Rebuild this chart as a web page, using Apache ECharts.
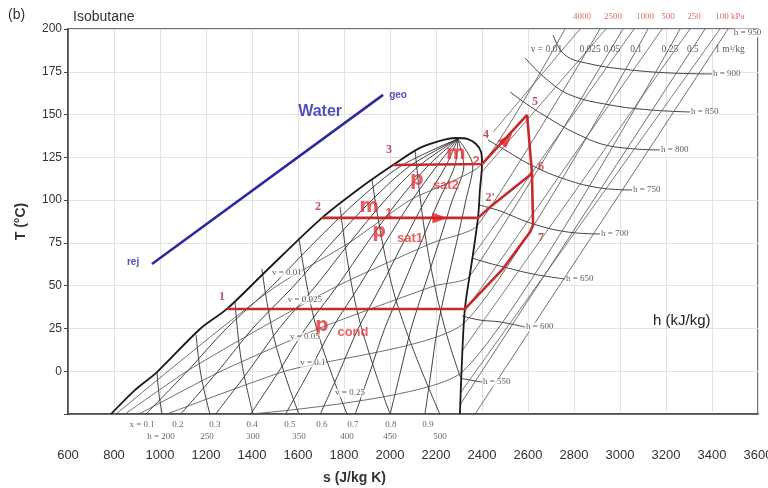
<!DOCTYPE html>
<html><head><meta charset="utf-8">
<script src="https://cdn.jsdelivr.net/npm/echarts@6/dist/echarts.min.js"></script>
<style>html,body{margin:0;padding:0;background:#fff;overflow:hidden;width:768px;height:488px}#c{width:768px;height:488px}</style>
</head><body><div id="c"></div>
<script>
// ---- axes ----
const sRange = [600, 3600], sStep = 200;
const tRange = [-25, 200], tStep = 25;
const yTickLabels = [0, 25, 50, 75, 100, 125, 150, 175, 200];

// ---- saturation dome (s, T) ----
const domeSat = [[787,-25],[891,-11],[987,-0.5],[1174,24.7],[1291,36.4],[1457,58],[1704,89.6],[1870,107.1],[2013,120.5],[2130,130.5],[2217,134.6],[2283,136.3],[2339,135.7],[2374,132.8],[2396,128.1],[2400,121.1],[2391,105.9],[2383,90.1],[2357,65],[2326,37],[2313,6.6],[2304,-25]];
const critPoint = [2295, 135.8];

// ---- quality lines: s at T levels ----
const qualityT = [-25, 0, 25, 50, 75, 100, 120];
const q01 = [939,1119,1289,1489,1669,1862,2048];
const q02 = [1090,1252,1403,1583,1746,1921,2087];
const q03 = [1242,1384,1518,1678,1824,1979,2126];
const q04 = [1394,1517,1633,1772,1901,2038,2165];
const q05 = [1546,1649,1748,1867,1979,2096,2204];
const q06 = [1697,1781,1862,1962,2057,2154,2243];
const q07 = [1849,1914,1977,2056,2134,2213,2282];
const q08 = [2001,2046,2092,2151,2212,2271,2321];
const q09 = [2152,2179,2206,2245,2289,2330,2360];

// ---- isenthalps in two-phase region ----
const hWet200 = [[987,-0.5],[995,-12.7],[1009,-25]];
const hWet250 = [[1157,21.2],[1178,-2.2],[1217,-25]];
const hWet300 = [[1326,41.0],[1352,7.7],[1404,-25]];
const hWet350 = [[1443,59.8],[1500,17.1],[1604,-25]];
const hWet400 = [[1604,77.9],[1678,26.4],[1813,-25]];
const hWet450 = [[1783,96.0],[1857,35.2],[2000,-25]];
const hWet500 = [[1922,111.8],[2022,43.4],[2217,-25]];
// ---- isenthalps (superheated) ----
const h550 = [[2109,129.3],[2174,63.3],[2304,-2.8],[2348,-5.1],[2400,-6.3]];
const h600 = [[2313,32.3],[2391,29.9],[2478,28.8],[2587,25.8]];
const h650 = [[2357,66.2],[2413,63.8],[2478,61.5],[2622,56.8],[2761,53.9]];
const h700 = [[2387,97.2],[2435,95.4],[2478,93.7],[2622,86.1],[2770,81.4],[2913,80.2]];
const h750 = [[2426,135.2],[2500,129.3],[2622,119.9],[2770,111.8],[2913,107.1],[3052,105.9]];
const h800 = [[2522,163.2],[2587,156.8],[2674,149.2],[2813,138.7],[2957,131.6],[3174,129.3]];
const h850 = [[2587,183.1],[2674,171.4],[2783,161.5],[2957,155.6],[3131,152.7],[3304,151.5]];
const h900 = [[2709,196.5],[2761,184.8],[2870,179.6],[3044,176.1],[3217,174.3],[3400,173.7]];

// ---- isochores ----
const v001 = [[809,-25],[1035,0],[1265,25],[1509,50],[1822,75],[2087,100],[2400,121],[2761,200]];
const v0025 = [[848,-25],[1117,0],[1435,25],[1774,50],[2183,75],[2378,84.9],[2913,200]];
const v005 = [[909,-25],[1265,0],[1691,25],[2196,50],[2344,55.1],[3013,200]];
const v01 = [[1030,-25],[1543,0],[2322,28.2],[3122,200]];
const v025 = [[1396,-25],[2313,-0.5],[3261,200]];
const v05 = [[2304,-19.7],[3370,200]];
const v1 = [[2370,-25],[3470,200]];

// ---- isobars (superheated) ----
const p100 = [[2309,-12.1],[3435,200]];
const p250 = [[2313,11.8],[3304,200]];
const p500 = [[2326,35.2],[3183,200]];
const p1000 = [[2357,66.8],[3061,200]];
const p2500 = [[2396,115.9],[2939,200]];
const p4000 = [[2450,140],[2826,200]];

// ---- water line ----
const water = [[965,62.7],[1970,161.5]];

// ---- cycle (red) ----
const cycCond = [[1291,36.4],[2326,36.4],[2487,59.2],[2609,81.4],[2622,85.5]];
const cycExp = [[2622,85.5],[2617,116.4],[2596,149.8]];
const cycSat1 = [[1704,89.6],[2383,89.6],[2435,96.0],[2609,114.7],[2617,116.4]];
const cycSat2 = [[2013,120.5],[2400,121.1],[2596,149.8]];
const arrowPts = [[2217,89.6,-90],[2509,135.7,-43]];

// ---- labels ----
const stateLabels = [['1',1270,43.4],['2',1687,96.0],['3',1996,129.3],['4',2417,138.1],['5',2630,157.4],['6',2657,119.4],["2'",2435,101.3],['7',2657,77.9]];
const redMain = [['m',1909,96.0],['p',1952,81.4],['m',2287,127.0],['p',2117,111.8],['p',1704,26.4]];
const redSub = [['1',1995,92.5],['sat1',2087,77.9],['2',2374,122.6],['sat2',2243,108.3],['cond',1839,22.9]];
const hLabels = [['h = 550',2400,-6.3],['h = 600',2587,25.8],['h = 650',2761,53.9],['h = 700',2913,80.2],['h = 750',3052,105.9],['h = 800',3174,129.3],['h = 850',3304,151.5],['h = 900',3400,173.7],['h = 950',3490,197.7]];
const vWetLabels = [['v = 0.01',1552,57.4],['v = 0.025',1630,41.6],['v = 0.05',1630,20.0],['v = 0.1',1665,4.8],['v = 0.25',1826,-12.7]];
const vTopLabels = [['v = 0.01',2680,187.8],['0.025',2870,187.8],['0.05',2965,187.8],['0.1',3070,187.8],['0.25',3217,187.8],['0.5',3317,187.8],['1 m³/kg',3478,187.8]];
const pTopLabels = [['4000',2835,207],['2500',2970,207],['1000',3109,207],['500',3209,207],['250',3322,207],['100 kPa',3478,207]];
const xRowLabels = [['x = 0.1',922,-31.4],['0.2',1078,-31.4],['0.3',1239,-31.4],['0.4',1400,-31.4],['0.5',1565,-31.4],['0.6',1704,-31.4],['0.7',1839,-31.4],['0.8',2004,-31.4],['0.9',2165,-31.4]];
const hRowLabels = [['h = 200',1004,-38.4],['250',1204,-38.4],['300',1404,-38.4],['350',1604,-38.4],['400',1813,-38.4],['450',2000,-38.4],['500',2217,-38.4]];
const waterLabels = [['Water',1696,151.5,'w'],['geo',2035,161,'g'],['rej',883,63.8,'r']];

const chart = echarts.init(document.getElementById('c'), null, {renderer:'canvas', width:768, height:488});
const series = [];
function line(data, color, width, z, smooth){
  series.push({type:'line', data, symbol:'none', silent:true, smooth: smooth||0,
    lineStyle:{color, width}, z: z||2, clip:true, animation:false});
}
const thin = '#2e2e2e';
[q01,q02,q03,q04,q05,q06,q07,q08,q09].forEach(q=>{
  const d = qualityT.map((t,i)=>[q[i],t]); d.push(critPoint); line(d, thin, 0.9, 2, 0.3);
});
[hWet200,hWet250,hWet300,hWet350,hWet400,hWet450,hWet500].forEach(d=>line(d, thin, 0.9, 2, 0.4));
[h550,h600,h650,h700,h750,h800,h850,h900].forEach(d=>line(d, '#2e2e2e', 0.9, 2, 0.4));
[v001,v0025,v005,v01,v025,v05,v1].forEach(d=>line(d, '#4a4a4a', 0.8, 2, 0.2));
[p100,p250,p500,p1000,p2500,p4000].forEach(d=>line(d, '#5a5a5a', 0.8, 2));
line(domeSat, '#1a1a1a', 1.8, 4, 0.3);
line(water, '#2a2a9c', 2.5, 5);
[cycCond,cycExp,cycSat1,cycSat2].forEach(d=>line(d, '#c42a2e', 2.6, 6));
series.push({type:'scatter', data: arrowPts.map(p=>({value:[p[0],p[1]], symbolRotate:p[2]})), symbol:'triangle',
  symbolSize:[11,15], itemStyle:{color:'#e01e24'}, z:7, silent:true, animation:false});

function labels(arr, style, z){
  series.push({type:'scatter', symbolSize:0, clip:false, silent:true, animation:false, z: z||8,
    data: arr.map(a=>({value:[a[1],a[2]], name:a[0]})),
    label: Object.assign({show:true, formatter:'{b}', position:[0,0], align:'center', verticalAlign:'middle', textBorderWidth:0}, style)});
}
const serif = 'Liberation Serif';
labels(stateLabels, {color:'#b02a35', fontFamily:serif, fontSize:12, fontWeight:'bold'});
labels(redMain, {color:'#e2343a', fontFamily:'DejaVu Sans', fontSize:19, fontWeight:'bold'});
labels(redSub, {color:'#e2343a', fontFamily:'Liberation Sans', fontSize:13, fontWeight:'bold'});
labels(hLabels, {color:'#333', fontFamily:serif, fontSize:9, position:'right', distance:1, backgroundColor:'#fff', align:null, verticalAlign:null});
labels(vWetLabels, {color:'#333', fontFamily:serif, fontSize:9, backgroundColor:'rgba(255,255,255,0.85)'});
labels(vTopLabels, {color:'#333', fontFamily:serif, fontSize:9.5});
labels(pTopLabels, {color:'#d9453f', fontFamily:serif, fontSize:9});
labels(xRowLabels, {color:'#444', fontFamily:serif, fontSize:9});
labels(hRowLabels, {color:'#444', fontFamily:serif, fontSize:9});
series.push({type:'scatter', symbolSize:0, clip:false, silent:true, animation:false, z:8,
  data: waterLabels.map(a=>({value:[a[1],a[2]], name:a[0],
    label:{fontSize: a[3]==='w'?16:10}})),
  label:{show:true, formatter:'{b}', position:[0,0], align:'center', verticalAlign:'middle', textBorderWidth:0, color:'#2626a6', fontWeight:'bold', fontFamily:'Liberation Sans'}});

chart.setOption({
  animation:false,
  backgroundColor:'#fff',
  title:[
    {text:'(b)', left:3, top:3, textStyle:{fontSize:14, fontWeight:'normal', color:'#333', fontFamily:'Liberation Sans'}},
    {text:'Isobutane', left:68, top:5, textStyle:{fontSize:14, fontWeight:'normal', color:'#333', fontFamily:'Liberation Sans'}},
    {text:'s (J/kg K)', left:318, top:466, textStyle:{fontSize:14, fontWeight:'bold', color:'#333', fontFamily:'Liberation Sans'}},
    {text:'h (kJ/kg)', left:648, top:308, textStyle:{fontSize:15, fontWeight:'normal', color:'#222', fontFamily:'Liberation Sans'}}
  ],
  grid:{left:68, right:10, top:29, bottom:74, show:true, borderColor:'#444', borderWidth:1.5, backgroundColor:'transparent', outerBoundsMode:'none', containLabel:false},
  xAxis:{type:'value', min:sRange[0], max:sRange[1], interval:sStep,
    axisLine:{onZero:false, lineStyle:{color:'#444', width:1.5}}, axisTick:{show:false},
    axisLabel:{margin:35, fontSize:13, color:'#333', fontFamily:'Liberation Sans', formatter:v=>String(v)},
    splitLine:{lineStyle:{color:'#e2e2e2', width:1}}},
  yAxis:{type:'value', min:tRange[0], max:tRange[1], interval:tStep,
    name:'T (°C)', nameLocation:'middle', nameGap:40,
    nameTextStyle:{fontSize:14, fontWeight:'bold', color:'#333', fontFamily:'Liberation Sans'},
    axisLine:{onZero:false, lineStyle:{color:'#444', width:1.5}}, axisTick:{show:true, length:4, lineStyle:{color:'#444'}},
    axisLabel:{margin:6, fontSize:12, color:'#333', fontFamily:'Liberation Sans',
      formatter:v=> yTickLabels.indexOf(v)>=0 ? String(v) : ''},
    splitLine:{lineStyle:{color:'#e2e2e2', width:1}}},
  series
});
</script></body></html>
